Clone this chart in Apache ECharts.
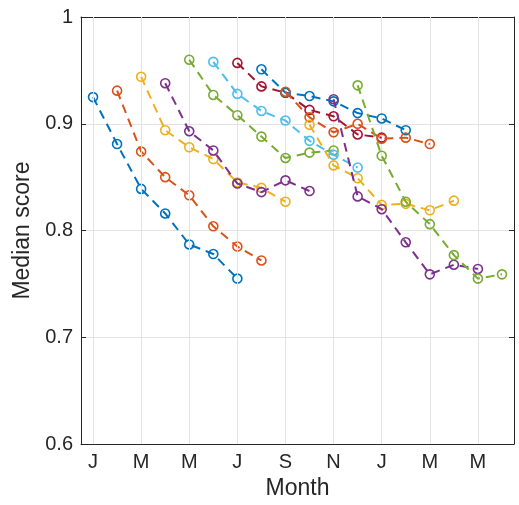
<!DOCTYPE html>
<html><head><meta charset="utf-8">
<script src="https://cdn.jsdelivr.net/npm/echarts@6/dist/echarts.min.js"></script>
<style>html,body{margin:0;padding:0;background:#fff}#c{width:519px;height:505px}</style>
</head><body><div id="c"></div>
<script>
// x positions are month indices (0 = January of first year)
const tickMonths = [0, 2, 4, 6, 8, 10, 12, 14, 16];
const tickLabels = ['J', 'M', 'M', 'J', 'S', 'N', 'J', 'M', 'M'];
const startMonths = [0, 1, 2, 3, 4, 5, 6, 7, 8, 9, 10, 11];

const cohort1  = [0.925, 0.881, 0.839, 0.816, 0.787, 0.778, 0.755];
const cohort2  = [0.931, 0.874, 0.850, 0.833, 0.804, 0.785, 0.772];
const cohort3  = [0.944, 0.894, 0.878, 0.867, 0.845, 0.840, 0.827];
const cohort4  = [0.938, 0.893, 0.875, 0.844, 0.836, 0.847, 0.837];
const cohort5  = [0.960, 0.927, 0.908, 0.888, 0.868, 0.873, 0.875];
const cohort6  = [0.958, 0.928, 0.912, 0.903, 0.884, 0.871, 0.859];
const cohort7  = [0.957, 0.935, 0.929, 0.913, 0.907, 0.890, 0.887];
const cohort8  = [0.951, 0.929, 0.926, 0.921, 0.910, 0.905, 0.894];
const cohort9  = [0.930, 0.906, 0.892, 0.900, 0.886, 0.887, 0.881];
const cohort10 = [0.899, 0.861, 0.849, 0.824, 0.825, 0.819, 0.828];
const cohort11 = [0.923, 0.832, 0.820, 0.789, 0.759, 0.768, 0.764];
const cohort12 = [0.936, 0.870, 0.827, 0.806, 0.777, 0.755, 0.759];

const cohorts = [cohort1, cohort2, cohort3, cohort4, cohort5, cohort6,
                 cohort7, cohort8, cohort9, cohort10, cohort11, cohort12];

const palette = ['#0072BD', '#D95319', '#EDB120', '#7E2F8E', '#77AC30', '#4DBEEE', '#A2142F'];
const axisColor = '#262626';
const gridColor = '#e3e3e3';
const font = 'Liberation Sans, Arial, Helvetica, sans-serif';

const series = cohorts.map((vals, i) => {
  const c = palette[i % palette.length];
  return {
    type: 'line',
    data: vals.map((v, k) => [startMonths[i] + k, v]),
    symbol: 'circle',
    symbolSize: 9,
    z: 3 + i,
    itemStyle: { color: 'rgba(255,255,255,0)', borderColor: c, borderWidth: 1.6 },
    lineStyle: { color: c, width: 2, type: [9, 6] },
    emphasis: { disabled: true },
    animation: false
  };
});

// vertical grid lines at the month ticks
series.unshift({
  type: 'line',
  data: [],
  z: 1,
  silent: true,
  markLine: {
    silent: true,
    symbol: 'none',
    animation: false,
    label: { show: false },
    lineStyle: { color: gridColor, width: 1, type: 'solid' },
    emphasis: { disabled: true },
    data: tickMonths.map(m => ({ xAxis: m }))
  }
});

const chart = echarts.init(document.getElementById('c'));
chart.setOption({
  animation: false,
  backgroundColor: '#fff',
  grid: { left: 81, top: 17, right: 5, bottom: 56, containLabel: false },
  xAxis: [{
    type: 'value', min: -0.5, max: 17.5, position: 'bottom',
    name: 'Month', nameLocation: 'middle', nameGap: 32,
    nameTextStyle: { color: axisColor, fontSize: 23, fontFamily: font },
    axisLine: { show: true, onZero: false, lineStyle: { color: axisColor, width: 1 } },
    axisTick: { show: true, inside: true, length: 5, customValues: tickMonths, lineStyle: { color: axisColor } },
    axisLabel: { show: true, customValues: tickMonths, margin: 8, color: axisColor, fontSize: 20, fontFamily: font,
      formatter: v => tickLabels[tickMonths.indexOf(Math.round(v))] || '' },
    splitLine: { show: false }
  }, {
    type: 'value', min: -0.5, max: 17.5, position: 'top',
    axisLine: { show: true, onZero: false, lineStyle: { color: axisColor, width: 1 } },
    axisTick: { show: true, inside: true, length: 5, customValues: tickMonths, lineStyle: { color: axisColor } },
    axisLabel: { show: false },
    splitLine: { show: false }
  }],
  yAxis: [{
    type: 'value', min: 0.6, max: 1.0, interval: 0.1, position: 'left',
    name: 'Median score', nameLocation: 'middle', nameGap: 38,
    nameTextStyle: { color: axisColor, fontSize: 23, fontFamily: font },
    axisLine: { show: true, onZero: false, lineStyle: { color: axisColor, width: 1 } },
    axisTick: { show: true, inside: true, length: 5, lineStyle: { color: axisColor } },
    axisLabel: { show: true, margin: 8, color: axisColor, fontSize: 20, fontFamily: font,
      formatter: v => (Math.abs(v - 1) < 1e-9 ? '1' : v.toFixed(1)) },
    splitLine: { show: true, lineStyle: { color: gridColor, width: 1 } }
  }, {
    type: 'value', min: 0.6, max: 1.0, interval: 0.1, position: 'right',
    axisLine: { show: true, onZero: false, lineStyle: { color: axisColor, width: 1 } },
    axisTick: { show: true, inside: true, length: 5, lineStyle: { color: axisColor } },
    axisLabel: { show: false },
    splitLine: { show: false }
  }],
  series: series
});
</script>
</body></html>
